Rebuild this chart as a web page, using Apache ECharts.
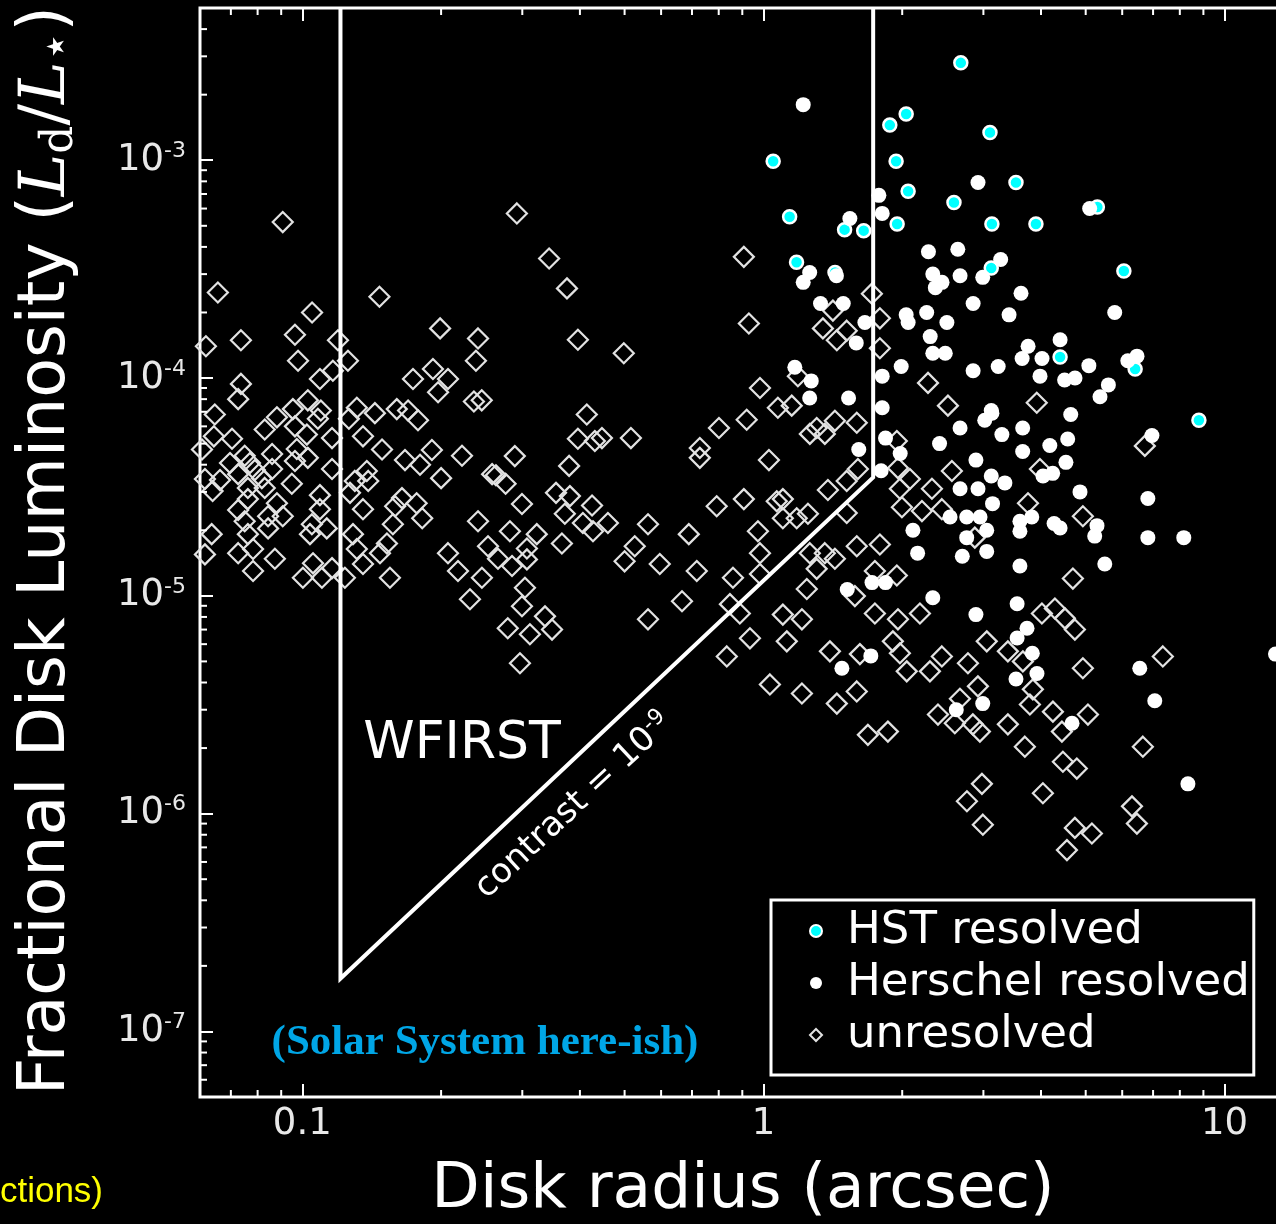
<!DOCTYPE html>
<html>
<head>
<meta charset="utf-8">
<title>Fractional disk luminosity vs disk radius</title>
<script src="https://cdn.jsdelivr.net/npm/echarts@6/dist/echarts.min.js"></script>
<style>
  html, body { margin: 0; padding: 0; background: #000; }
  #panel { width: 1276px; height: 1224px; }
</style>
</head>
<body>
<div id="panel"></div>
<script>
/** 数据：半径 (arcsec) 与 Ld/L* */
var hstPoints = [
  [2.68, 2.8e-3], [2.04, 1.63e-3], [1.88, 1.45e-3], [3.1, 1.34e-3], [1.05, 9.9e-4], [1.94, 9.9e-4],
  [3.53, 7.9e-4], [2.06, 7.2e-4], [2.59, 6.4e-4], [1.14, 5.5e-4], [1.95, 5.1e-4], [3.13, 5.1e-4],
  [3.9, 5.1e-4], [1.5, 4.8e-4], [1.65, 4.75e-4], [1.18, 3.4e-4], [1.43, 3.05e-4], [3.12, 3.2e-4],
  [6.05, 3.1e-4], [5.3, 6.1e-4], [6.4, 1.1e-4], [8.8, 6.4e-5], [4.4, 1.25e-4]
];

var herschelPoints = [
  [1.22, 1.8e-3], [2.92, 7.9e-4], [5.1, 6.0e-4], [1.78, 6.9e-4], [1.81, 5.7e-4], [1.54, 5.4e-4],
  [2.28, 3.8e-4], [2.64, 3.9e-4], [3.27, 3.5e-4], [2.99, 2.9e-4], [1.26, 3.05e-4], [1.22, 2.75e-4],
  [1.44, 2.95e-4], [2.33, 3.0e-4], [2.44, 2.75e-4], [2.36, 2.6e-4], [2.67, 2.95e-4], [3.62, 2.45e-4],
  [2.85, 2.2e-4], [3.41, 1.95e-4], [5.78, 2.0e-4], [1.33, 2.2e-4], [1.49, 2.2e-4], [2.04, 1.95e-4],
  [2.06, 1.8e-4], [2.26, 2.0e-4], [2.5, 1.8e-4], [1.59, 1.45e-4], [1.66, 1.8e-4], [2.3, 1.55e-4],
  [2.33, 1.3e-4], [2.48, 1.3e-4], [1.99, 1.13e-4], [2.85, 1.08e-4], [3.23, 1.13e-4], [3.75, 1.4e-4],
  [3.64, 1.23e-4], [4.02, 1.23e-4], [4.4, 1.5e-4], [5.08, 1.14e-4], [4.5, 9.8e-5], [4.74, 1.0e-4],
  [5.6, 9.3e-5], [5.37, 8.2e-5], [6.46, 1.26e-4], [6.17, 1.2e-4], [3.98, 1.02e-4], [1.81, 1.02e-4],
  [1.81, 7.3e-5], [1.17, 1.12e-4], [1.27, 9.7e-5], [1.26, 8.1e-5], [1.53, 8.1e-5], [3.13, 6.9e-5],
  [4.64, 6.8e-5], [2.67, 5.9e-5], [2.41, 5.0e-5], [3.12, 7.1e-5], [3.02, 6.4e-5], [3.29, 5.5e-5],
  [3.65, 5.9e-5], [3.65, 4.6e-5], [4.18, 4.9e-5], [4.57, 5.25e-5], [6.96, 5.45e-5], [2.89, 4.2e-5],
  [1.98, 4.5e-5], [1.84, 5.3e-5], [1.8, 3.75e-5], [1.61, 4.7e-5], [2.67, 3.1e-5], [2.92, 3.1e-5],
  [3.12, 3.55e-5], [3.34, 3.3e-5], [3.14, 2.65e-5], [4.04, 3.55e-5], [4.24, 3.65e-5], [4.53, 4.1e-5],
  [4.86, 3.0e-5], [6.82, 2.8e-5], [6.82, 1.85e-5], [8.16, 1.85e-5], [2.11, 2.0e-5], [2.16, 1.57e-5],
  [2.54, 2.3e-5], [2.76, 2.3e-5], [2.95, 2.3e-5], [3.05, 2.0e-5], [2.76, 1.85e-5], [2.7, 1.52e-5],
  [3.05, 1.6e-5], [3.6, 1.37e-5], [3.6, 2.2e-5], [3.82, 2.3e-5], [3.6, 1.98e-5], [4.27, 2.15e-5],
  [4.4, 2.05e-5], [5.29, 2.1e-5], [5.23, 1.88e-5], [5.5, 1.4e-5], [2.33, 9.8e-6], [2.89, 8.2e-6],
  [3.55, 9.2e-6], [3.73, 7.1e-6], [3.55, 6.4e-6], [1.72, 1.15e-5], [1.84, 1.15e-5], [1.52, 1.07e-5],
  [1.48, 4.65e-6], [1.71, 5.3e-6], [3.83, 5.45e-6], [3.92, 4.4e-6], [3.53, 4.15e-6], [6.55, 4.65e-6],
  [7.06, 3.3e-6], [2.99, 3.2e-6], [2.62, 3.0e-6], [4.67, 2.6e-6], [8.33, 1.37e-6], [12.9, 5.4e-6]
];

var unresolvedPoints = [
  [0.0907, 5.2e-4], [0.0656, 2.47e-4], [0.147, 2.36e-4], [0.105, 2.0e-4], [0.0736, 1.49e-4], [0.0964, 1.58e-4],
  [0.0618, 1.4e-4], [0.0979, 1.2e-4], [0.1195, 1.49e-4], [0.1256, 1.2e-4], [0.1165, 1.08e-4], [0.1092, 9.9e-5],
  [0.199, 1.69e-4], [0.2405, 1.52e-4], [0.238, 1.2e-4], [0.1738, 9.9e-5], [0.192, 1.1e-4], [0.207, 9.9e-5],
  [0.197, 8.6e-5], [0.2356, 7.8e-5], [0.0736, 9.4e-5], [0.0726, 8.0e-5], [0.0646, 6.8e-5], [0.0881, 6.6e-5],
  [0.0954, 7.2e-5], [0.1028, 7.9e-5], [0.1097, 7.1e-5], [0.1081, 6.5e-5], [0.0964, 6.0e-5], [0.1023, 5.5e-5],
  [0.0829, 5.8e-5], [0.0643, 5.4e-5], [0.0704, 5.26e-5], [0.0606, 4.7e-5], [0.116, 5.3e-5], [0.1313, 7.3e-5],
  [0.1262, 6.5e-5], [0.1437, 6.9e-5], [0.1603, 7.2e-5], [0.1696, 7.1e-5], [0.1782, 6.4e-5], [0.1354, 5.4e-5],
  [0.1489, 4.7e-5], [0.167, 4.2e-5], [0.18, 4.0e-5], [0.191, 4.67e-5], [0.222, 4.4e-5], [0.2, 3.47e-5],
  [0.258, 3.62e-5], [0.075, 4.4e-5], [0.077, 4.07e-5], [0.0697, 4.07e-5], [0.0789, 3.78e-5], [0.086, 4.48e-5],
  [0.086, 3.82e-5], [0.0973, 4.72e-5], [0.0964, 4.16e-5], [0.1028, 4.3e-5], [0.116, 3.82e-5], [0.0615, 3.44e-5],
  [0.0663, 3.4e-5], [0.0726, 3.62e-5], [0.0817, 3.47e-5], [0.0762, 3.13e-5], [0.0639, 3.03e-5], [0.0949, 3.27e-5],
  [0.0829, 3.13e-5], [0.13, 3.37e-5], [0.138, 3.74e-5], [0.139, 3.37e-5], [0.1269, 2.97e-5], [0.1645, 2.81e-5],
  [0.159, 2.58e-5], [0.177, 2.66e-5], [0.182, 2.27e-5], [0.0762, 2.78e-5], [0.0726, 2.48e-5], [0.0881, 2.66e-5],
  [0.0907, 2.32e-5], [0.0843, 2.32e-5], [0.075, 2.2e-5], [0.1092, 2.9e-5], [0.1092, 2.5e-5], [0.1049, 2.13e-5],
  [0.113, 2.04e-5], [0.1039, 1.92e-5], [0.0843, 2.04e-5], [0.0762, 1.92e-5], [0.0636, 1.92e-5], [0.0615, 1.55e-5],
  [0.0726, 1.57e-5], [0.0782, 1.64e-5], [0.0872, 1.48e-5], [0.0782, 1.3e-5], [0.1003, 1.21e-5], [0.1055, 1.41e-5],
  [0.1103, 1.21e-5], [0.116, 1.34e-5], [0.1288, 1.92e-5], [0.1313, 1.64e-5], [0.1354, 1.4e-5], [0.1237, 1.21e-5],
  [0.1354, 2.5e-5], [0.1526, 1.74e-5], [0.1474, 1.57e-5], [0.1549, 1.21e-5], [0.207, 1.57e-5], [0.2176, 1.3e-5],
  [0.2405, 2.2e-5], [0.2528, 1.69e-5], [0.2452, 1.21e-5], [0.231, 9.65e-6], [0.1572, 2.13e-5], [0.292, 5.7e-4],
  [0.343, 3.54e-4], [0.375, 2.58e-4], [0.396, 1.5e-4], [0.498, 1.3e-4], [0.907, 3.6e-4], [0.93, 1.78e-4],
  [0.983, 9.0e-5], [0.245, 7.9e-5], [0.414, 6.8e-5], [0.396, 5.26e-5], [0.4465, 5.3e-5], [0.431, 5.14e-5],
  [0.516, 5.3e-5], [0.289, 4.38e-5], [0.379, 3.95e-5], [0.263, 3.58e-5], [0.276, 3.27e-5], [0.2995, 2.64e-5],
  [0.355, 2.97e-5], [0.3805, 2.87e-5], [0.371, 2.38e-5], [0.425, 2.6e-5], [0.406, 2.16e-5], [0.427, 1.98e-5],
  [0.46, 2.16e-5], [0.282, 1.98e-5], [0.3225, 1.92e-5], [0.307, 1.65e-5], [0.3656, 1.74e-5], [0.2657, 1.48e-5],
  [0.285, 1.37e-5], [0.307, 1.47e-5], [0.304, 1.09e-5], [0.2995, 8.96e-6], [0.279, 7.1e-6], [0.3116, 6.66e-6],
  [0.336, 8.05e-6], [0.348, 7.0e-6], [0.2965, 4.9e-6], [0.562, 2.13e-5], [0.526, 1.69e-5], [0.5, 1.44e-5],
  [0.596, 1.4e-5], [0.689, 1.92e-5], [0.717, 1.3e-5], [0.666, 9.45e-6], [0.562, 7.8e-6], [0.728, 4.77e-5],
  [0.728, 4.3e-5], [0.801, 5.9e-5], [0.92, 6.43e-5], [1.028, 4.2e-5], [1.075, 7.3e-5], [0.792, 2.58e-5],
  [0.907, 2.78e-5], [0.973, 1.98e-5], [0.983, 1.57e-5], [0.859, 1.21e-5], [0.983, 1.26e-5], [0.846, 9.16e-6],
  [0.889, 8.3e-6], [0.935, 6.38e-6], [0.833, 5.27e-6], [1.033, 3.92e-6], [1.069, 2.72e-5], [1.152, 7.47e-5],
  [1.429, 6.36e-5], [1.305, 5.9e-5], [1.261, 5.54e-5], [1.359, 5.54e-5], [1.594, 6.23e-5], [1.102, 2.78e-5],
  [1.102, 2.27e-5], [1.181, 2.27e-5], [1.249, 2.38e-5], [1.38, 3.06e-5], [1.516, 3.37e-5], [1.603, 3.82e-5],
  [1.516, 2.4e-5], [1.947, 5.14e-5], [1.958, 3.86e-5], [2.078, 3.44e-5], [1.977, 3.1e-5], [1.997, 2.55e-5],
  [2.207, 2.45e-5], [2.32, 3.1e-5], [2.438, 2.5e-5], [2.563, 3.74e-5], [2.513, 7.47e-5], [3.916, 7.7e-5],
  [2.874, 1.85e-5], [3.748, 2.66e-5], [3.978, 3.82e-5], [4.93, 2.32e-5], [6.718, 4.88e-5], [4.69, 1.2e-5],
  [1.261, 1.57e-5], [1.305, 1.33e-5], [1.242, 1.075e-5], [1.359, 1.57e-5], [1.429, 1.48e-5], [1.594, 1.69e-5],
  [1.789, 1.72e-5], [1.745, 1.3e-5], [1.947, 1.24e-5], [1.579, 9.97e-6], [1.102, 8.2e-6], [1.212, 7.8e-6],
  [1.124, 6.18e-6], [1.394, 5.56e-6], [1.619, 5.4e-6], [1.745, 8.3e-6], [1.958, 7.8e-6], [2.185, 8.3e-6],
  [1.909, 6.18e-6], [1.977, 5.45e-6], [2.046, 4.5e-6], [2.297, 4.5e-6], [2.438, 5.27e-6], [2.777, 4.9e-6],
  [3.051, 6.18e-6], [3.39, 5.56e-6], [3.654, 5.0e-6], [4.018, 8.3e-6], [4.287, 8.75e-6], [4.506, 7.88e-6],
  [4.737, 7.0e-6], [1.212, 3.56e-6], [1.443, 3.2e-6], [1.594, 3.64e-6], [2.391, 2.85e-6], [2.601, 2.6e-6],
  [2.668, 3.37e-6], [2.919, 3.84e-6], [2.846, 2.57e-6], [2.948, 2.38e-6], [3.39, 2.57e-6], [3.784, 3.17e-6],
  [3.841, 3.72e-6], [4.245, 2.94e-6], [4.44, 2.38e-6], [5.056, 2.85e-6], [4.93, 4.65e-6], [7.35, 5.27e-6],
  [6.652, 2.03e-6], [1.685, 2.3e-6], [1.862, 2.38e-6], [3.69, 2.03e-6], [4.462, 1.73e-6], [4.783, 1.61e-6],
  [2.978, 1.37e-6], [2.763, 1.14e-6], [2.992, 8.9e-7], [4.038, 1.24e-6], [6.3, 1.08e-6], [6.457, 9.0e-7],
  [4.737, 8.6e-7], [5.157, 8.1e-7], [4.553, 6.8e-7], [1.415, 2.04e-4], [1.346, 1.69e-4], [1.443, 1.49e-4],
  [1.516, 1.65e-4], [1.188, 1.02e-4], [2.275, 9.5e-5], [1.789, 1.88e-4], [1.789, 1.37e-4], [1.719, 2.44e-4]
];

/** WFIRST 区域边界 (contrast = 1e-9) */
var wfirstX = [0.121, 0.121, 1.73, 1.73];
var wfirstY = [5e-3, 1.75e-7, 3.5e-5, 5e-3];

/** 对数轴次刻度 */
var xMinorTicks = [0.07, 0.08, 0.09, 0.2, 0.3, 0.4, 0.5, 0.6, 0.7, 0.8, 0.9, 2, 3, 4, 5, 6, 7, 8, 9];
var yMinorTicks = [
  6e-8, 7e-8, 8e-8, 9e-8,
  2e-7, 3e-7, 4e-7, 5e-7, 6e-7, 7e-7, 8e-7, 9e-7,
  2e-6, 3e-6, 4e-6, 5e-6, 6e-6, 7e-6, 8e-6, 9e-6,
  2e-5, 3e-5, 4e-5, 5e-5, 6e-5, 7e-5, 8e-5, 9e-5,
  2e-4, 3e-4, 4e-4, 5e-4, 6e-4, 7e-4, 8e-4, 9e-4,
  2e-3, 3e-3, 4e-3
];

var labelColor = '#e8e8e8';
var sans = 'DejaVu Sans';

function isDecade(v) {
  var e = Math.round(Math.log10(v));
  return Math.abs(v / Math.pow(10, e) - 1) < 1e-6;
}

chartDom = document.getElementById('panel');
myChart = echarts.init(chartDom, null, { renderer: 'canvas' });

var tickData = xMinorTicks.map(function (v) { return [v, 1e-5, 0]; })
  .concat(yMinorTicks.map(function (v) { return [1, v, 1]; }));

var option = {
  backgroundColor: '#000',
  animation: false,
  grid: {
    left: 200, top: 8, right: -13, bottom: 127,
    outerBoundsMode: 'none', containLabel: false,
    show: true, borderColor: '#fff', borderWidth: 3, backgroundColor: 'transparent'
  },
  xAxis: [{
    type: 'log', logBase: 10, min: 0.06, max: 13.8,
    axisLine: { show: false },
    splitLine: { show: false },
    axisTick: { inside: true, length: 13, lineStyle: { color: '#fff', width: 2 } },
    axisLabel: {
      color: labelColor, fontSize: 37, fontFamily: sans, margin: 9,
      formatter: function (v) { return isDecade(v) ? String(+v.toPrecision(3)) : ''; }
    }
  }, {
    type: 'log', logBase: 10, min: 0.06, max: 13.8, position: 'top',
    axisLine: { show: false },
    splitLine: { show: false },
    axisTick: { inside: true, length: 13, lineStyle: { color: '#fff', width: 2 } },
    axisLabel: { show: false }
  }],
  yAxis: {
    type: 'log', logBase: 10, min: 5e-8, max: 5e-3,
    axisLine: { show: false },
    splitLine: { show: false },
    axisTick: { inside: true, length: 13, lineStyle: { color: '#fff', width: 2 } },
    axisLabel: {
      margin: 14,
      formatter: function (v) {
        return isDecade(v) ? '{b|10}{s|' + Math.round(Math.log10(v)) + '}' : '';
      },
      rich: {
        b: { color: labelColor, fontSize: 37, fontFamily: sans, lineHeight: 40 },
        s: { color: labelColor, fontSize: 22, fontFamily: sans, lineHeight: 22, verticalAlign: 'top' }
      }
    }
  },
  legend: {
    data: ['HST resolved', 'Herschel resolved', 'unresolved'],
    orient: 'vertical',
    left: 771, top: 900,
    padding: [8, 4, 17, 38],
    itemWidth: 12, itemHeight: 12, itemGap: 6,
    backgroundColor: '#000', borderColor: '#fff', borderWidth: 3, borderRadius: 0,
    selectedMode: false,
    textStyle: { color: '#fff', fontSize: 45, fontFamily: sans, lineHeight: 46, padding: [0, 0, 0, 20] }
  },
  graphic: [
    {
      type: 'text', x: 47, y: 1095, rotation: Math.PI / 2, z: 10,
      style: {
        text: 'Fractional Disk Luminosity ({it|L}{sub|d}{sl|/}{it|L}{star|⋆}{n|)}',
        fill: '#fff', fontSize: 65, fontFamily: sans, lineHeight: 72,
        align: 'left', verticalAlign: 'middle',
        rich: {
          it: { fill: '#fff', fontSize: 64, fontFamily: 'DejaVu Serif', fontStyle: 'italic', lineHeight: 72 },
          sl: { fill: '#fff', fontSize: 64, fontFamily: 'DejaVu Serif', lineHeight: 72 },
          sub: { fill: '#fff', fontSize: 44, fontFamily: 'DejaVu Serif', lineHeight: 44, verticalAlign: 'bottom' },
          star: { fill: '#fff', fontSize: 48, fontFamily: sans, lineHeight: 46, verticalAlign: 'bottom' },
          n: { fill: '#fff', fontSize: 65, fontFamily: sans, lineHeight: 72 }
        }
      }
    },
    {
      type: 'text', x: 743, y: 1191, z: 10,
      style: {
        text: 'Disk radius (arcsec)', fill: '#fff', fontSize: 63, fontFamily: sans,
        align: 'center', verticalAlign: 'middle'
      }
    },
    {
      type: 'text', x: 462, y: 744, z: 10,
      style: {
        text: 'WFIRST', fill: '#fff', fontSize: 52, fontFamily: sans,
        align: 'center', verticalAlign: 'middle'
      }
    },
    {
      type: 'text', x: 574, y: 806, z: 10, rotation: 43 * Math.PI / 180,
      style: {
        text: '{n|contrast = 10}{s|-9}', align: 'center', verticalAlign: 'middle',
        rich: {
          n: { fill: '#fff', fontSize: 34, fontFamily: sans, lineHeight: 38 },
          s: { fill: '#fff', fontSize: 22, fontFamily: sans, lineHeight: 22, verticalAlign: 'top' }
        }
      }
    },
    {
      type: 'text', x: 485, y: 1043, z: 10,
      style: {
        text: '(Solar System here-ish)', fill: '#00a6e6', fontSize: 43,
        fontFamily: 'Liberation Serif', fontWeight: 'bold',
        align: 'center', verticalAlign: 'middle'
      }
    },
    {
      type: 'text', x: 103, y: 1192, z: 10,
      style: {
        text: 'ctions)', fill: '#ffff00', fontSize: 35, fontFamily: 'Liberation Sans',
        align: 'right', verticalAlign: 'middle'
      }
    }
  ],
  series: [
    {
      name: 'unresolved', type: 'scatter', data: unresolvedPoints,
      symbol: 'diamond', symbolSize: 20, z: 2,
      itemStyle: { color: 'rgba(0,0,0,0)', borderColor: '#e2e2e2', borderWidth: 2.2, opacity: 1 }
    },
    {
      name: 'HST resolved', type: 'scatter', data: hstPoints,
      symbol: 'circle', symbolSize: 13, z: 3,
      itemStyle: { color: '#00ffff', borderColor: '#fff', borderWidth: 2.5, opacity: 1 }
    },
    {
      name: 'Herschel resolved', type: 'scatter', data: herschelPoints,
      symbol: 'circle', symbolSize: 15, z: 4,
      itemStyle: { color: '#fff', opacity: 1 }
    },
    {
      name: 'WFIRST', type: 'line', z: 5, silent: true,
      data: wfirstX.map(function (x, i) { return [x, wfirstY[i]]; }),
      symbol: 'none',
      lineStyle: { color: '#fff', width: 4, join: 'miter' }
    },
    {
      name: 'minorTicks', type: 'custom', z: 6, silent: true,
      data: tickData,
      renderItem: function (params, api) {
        var cs = params.coordSys;
        var p = api.coord([api.value(0), api.value(1)]);
        var len = 7;
        var style = { stroke: '#fff', lineWidth: 2 };
        if (api.value(2) === 0) {
          return {
            type: 'group',
            children: [
              { type: 'line', shape: { x1: p[0], y1: cs.y + cs.height, x2: p[0], y2: cs.y + cs.height - len }, style: style },
              { type: 'line', shape: { x1: p[0], y1: cs.y, x2: p[0], y2: cs.y + len }, style: style }
            ]
          };
        }
        return { type: 'line', shape: { x1: cs.x, y1: p[1], x2: cs.x + len, y2: p[1] }, style: style };
      }
    }
  ]
};

myChart.setOption(option);
</script>
</body>
</html>
